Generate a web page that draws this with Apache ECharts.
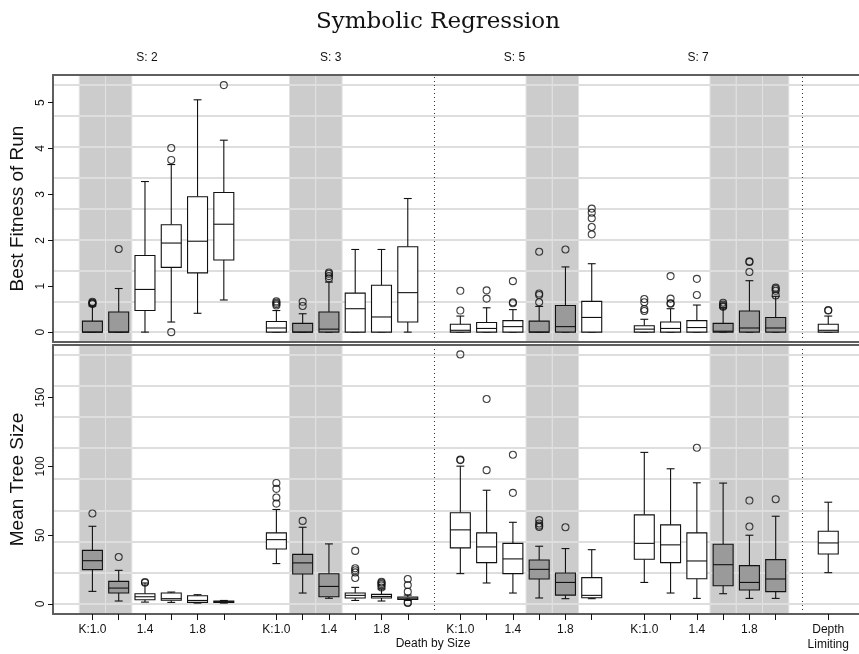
<!DOCTYPE html>
<html><head><meta charset="utf-8">
<script src="https://cdn.jsdelivr.net/npm/echarts@6/dist/echarts.min.js"></script>
<style>html,body{margin:0;padding:0;background:#fff}#chart{width:859px;height:654px}</style>
</head><body><div id="chart"></div>
<script>
// ---------------- data ----------------
const titleText = 'Symbolic Regression';
const groupLabels = ['S: 2', 'S: 3', 'S: 5', 'S: 7'];
const kLabels = ['K:1.0', '1.2', '1.4', '1.6', '1.8', '2.0'];
const labelledK = [0, 2, 4];               // K:1.0, 1.4, 1.8 get a label
const depthLabel = 'Depth\nLimiting';
const xAxisTitle = 'Death by Size';
const highlightedK = [[0, 1], [1, 2], [3, 4], [3, 4, 5]]; // shaded / filled boxes per group
const dividerAfterGroup = [1, 3];          // dotted separators
const fitnessTicks = [0, 1, 2, 3, 4, 5];
const sizeTicks = [0, 50, 100, 150];
const panelTitles = ['Best Fitness of Run', 'Mean Tree Size'];

// [lower whisker, Q1, median, Q3, upper whisker] — 4 groups x 6 K values, then depth limiting
const fitnessStats = [
  [0, 0, 0, 0.24, 0.57], [0, 0, 0, 0.44, 0.95], [0, 0.47, 0.93, 1.67, 3.28],
  [0.22, 1.41, 1.94, 2.34, 3.65], [0.41, 1.29, 1.98, 2.95, 5.06], [0.70, 1.57, 2.35, 3.04, 4.18],
  [0, 0, 0.09, 0.23, 0.47], [0, 0, 0, 0.19, 0.40], [0, 0, 0.065, 0.44, 1.09],
  [0, 0, 0.51, 0.85, 1.80], [0, 0, 0.33, 1.02, 1.80], [0, 0.22, 0.86, 1.86, 2.91],
  [0, 0, 0.04, 0.17, 0.35], [0, 0, 0.08, 0.21, 0.53], [0, 0, 0.12, 0.25, 0.49],
  [0, 0, 0, 0.24, 0.56], [0, 0, 0.12, 0.58, 1.42], [0, 0, 0.32, 0.67, 1.49],
  [0, 0, 0.065, 0.14, 0.28], [0, 0, 0.08, 0.22, 0.51], [0, 0, 0.10, 0.25, 0.59],
  [0, 0, 0.02, 0.19, 0.53], [0, 0, 0.09, 0.46, 1.12], [0, 0, 0.09, 0.32, 0.78],
  [0, 0, 0.04, 0.17, 0.35]
];
const fitnessOutliers = [
  [0.61, 0.63, 0.64, 0.66], [1.81], [], [0, 3.75, 4.01], [], [5.38],
  [0.58, 0.61, 0.64, 0.67], [0.57, 0.66], [1.17, 1.22, 1.27, 1.30], [], [], [],
  [0.47, 0.90], [0.73, 0.91], [0.63, 0.65, 1.11], [0.65, 0.81, 0.84, 1.75], [1.80], [2.13, 2.29, 2.48, 2.60, 2.69],
  [0.46, 0.50, 0.65, 0.72], [0.62, 0.63, 0.73, 1.22], [0.81, 1.16], [0.55, 0.57, 0.60, 0.64], [1.31, 1.53, 1.54], [0.80, 0.90, 0.94, 0.97],
  [0.47, 0.48]
];
const sizeStats = [
  [9.2, 25, 31.5, 39, 56.5], [2.2, 8, 11.6, 16.5, 24.5], [1.4, 3.1, 5.3, 7.5, 15.3],
  [1.2, 2.7, 3.9, 8, 8.7], [0.7, 1.2, 2.6, 6, 6.8], [0.7, 1.2, 1.7, 2.2, 2.6],
  [29.4, 40, 46.8, 51.7, 68.7], [8, 21.8, 29.9, 36.1, 55.8], [4.2, 5.3, 12.8, 22, 43.7],
  [2.6, 4.4, 6.3, 8, 12.1], [2.2, 4.4, 5.5, 7, 10.9], [2.6, 3.4, 4.3, 5.1, 6.5],
  [22.1, 40.8, 53.9, 66.3, 100.2], [15.3, 30.1, 41.5, 51.7, 82.7], [8, 22.1, 32.8, 44.1, 59.4],
  [4.4, 18.2, 25.2, 32, 42], [3.9, 6.5, 15.7, 22.6, 40.3], [3.9, 4.6, 6.3, 19.2, 39.5],
  [15.7, 32.5, 44.1, 64.8, 110.2], [8, 30.1, 43, 57.5, 98.3], [4.1, 18.4, 31.3, 51.7, 88.1],
  [7.5, 13.3, 28.6, 43.4, 87.9], [4.1, 10.2, 15.7, 27.9, 50], [4.1, 9, 18.2, 32.3, 63.8],
  [22.8, 36.4, 44.4, 52.9, 74]
];
const sizeOutliers = [
  [65.8], [34.2], [15.5, 16], [], [], [],
  [73, 77.4, 83.7, 88], [60.4], [], [18.9, 23, 24.5, 26, 38.6], [12, 13.5, 14.5, 15.5, 16.2], [0.8, 1.2, 9, 13.8, 18.2],
  [104.6, 105, 181.4], [97.3, 149], [80.8, 108.5], [56, 57, 58.5, 61], [55.8], [],
  [], [], [113.6], [], [56.3, 75.2], [76.2],
  []
];

// ---------------- layout helpers ----------------
const SLOTS_PER_GROUP = kLabels.length + 1;
const boxSlots = [];
const boxFilled = [];
groupLabels.forEach((g, gi) => kLabels.forEach((k, ki) => {
  boxSlots.push(gi * SLOTS_PER_GROUP + ki);
  boxFilled.push(highlightedK[gi].includes(ki) ? 1 : 0);
}));
const depthSlot = groupLabels.length * SLOTS_PER_GROUP;
boxSlots.push(depthSlot); boxFilled.push(0);

const shadedSlots = [];
highlightedK.forEach((ks, gi) => ks.forEach(k => shadedSlots.push(gi * SLOTS_PER_GROUP + k)));
const dividerSlots = dividerAfterGroup.map(g => g * SLOTS_PER_GROUP + kLabels.length);
const tickSlots = boxSlots.slice();
const labelSlots = [];
groupLabels.forEach((g, gi) => labelledK.forEach(k => labelSlots.push(gi * SLOTS_PER_GROUP + k)));
labelSlots.push(depthSlot);

const FONT = 'Liberation Sans, Arial, Helvetica, sans-serif';
const FRAME = '#5e5e5e';
const BOX_W = 0.76, CAP_W = 0.3;

function renderBox(params, api) {
  const x = api.value(0);
  const lo = api.coord([x, api.value(1)]);
  const q1 = api.coord([x, api.value(2)]);
  const md = api.coord([x, api.value(3)]);
  const q3 = api.coord([x, api.value(4)]);
  const hi = api.coord([x, api.value(5)]);
  const filled = api.value(6);
  const half = api.size([BOX_W, 0])[0] / 2;
  const cap = api.size([CAP_W, 0])[0] / 2;
  const cx = lo[0];
  const st = { stroke: '#111', lineWidth: 1.1 };
  return {
    type: 'group', children: [
      { type: 'line', shape: { x1: cx, y1: q3[1], x2: cx, y2: hi[1] }, style: st },
      { type: 'line', shape: { x1: cx, y1: q1[1], x2: cx, y2: lo[1] }, style: st },
      { type: 'line', shape: { x1: cx - cap, y1: hi[1], x2: cx + cap, y2: hi[1] }, style: st },
      { type: 'line', shape: { x1: cx - cap, y1: lo[1], x2: cx + cap, y2: lo[1] }, style: st },
      { type: 'rect', shape: { x: cx - half, y: q3[1], width: 2 * half, height: q1[1] - q3[1] },
        style: { fill: filled ? '#9a9a9a' : '#ffffff', stroke: '#111', lineWidth: 1.1 } },
      { type: 'line', shape: { x1: cx - half, y1: md[1], x2: cx + half, y2: md[1] }, style: st }
    ]
  };
}

function panelSeries(stats, outliers, gi, maxVal) {
  const boxData = stats.map((s, i) => [boxSlots[i], ...s, boxFilled[i]]);
  const outData = [];
  outliers.forEach((arr, i) => arr.forEach(v => outData.push([boxSlots[i], v])));
  const gridVals = [];
  for (let i = 0; i <= 8; i++) gridVals.push(maxVal * i / 8);
  return [
    {
      type: 'custom', xAxisIndex: gi * 2, yAxisIndex: gi, z: 3, silent: true,
      renderItem: renderBox, data: boxData,
      encode: { x: 0, y: [1, 2, 3, 4, 5] },
      markArea: {
        silent: true, z: 1,
        itemStyle: { color: '#cccccc', borderColor: '#e2e2e2', borderWidth: 1 },
        data: shadedSlots.map(s => [{ xAxis: s - 0.5 }, { xAxis: s + 0.5 }])
      },
      markLine: {
        silent: true, z: 2, symbol: ['none', 'none'], label: { show: false },
        data: gridVals.map(v => ({ yAxis: v, lineStyle: { color: '#dedede', width: 2, type: 'solid' } }))
          .concat(dividerSlots.map(s => ({ xAxis: s, lineStyle: { color: '#333', width: 1, type: [1, 3] } })))
      }
    },
    {
      type: 'scatter', xAxisIndex: gi * 2, yAxisIndex: gi, z: 4, silent: true,
      symbol: 'circle', symbolSize: 7,
      itemStyle: { color: 'rgba(0,0,0,0)', borderColor: '#111', borderWidth: 1.1 },
      data: outData
    }
  ];
}

const fitMax = Math.max(...fitnessOutliers.flat(), ...fitnessStats.flat());
const sizeMax = Math.max(...sizeOutliers.flat(), ...sizeStats.flat());

function xAxisPair(gi, withLabels) {
  const base = {
    type: 'value', gridIndex: gi, min: -1.5, max: 29.17, z: 10,
    splitLine: { show: false },
    axisLine: { show: true, onZero: false, lineStyle: { color: FRAME, width: 2 } }
  };
  return [
    Object.assign({}, base, {
      position: 'bottom',
      axisTick: withLabels ? { show: true, customValues: tickSlots, length: 6, lineStyle: { color: '#111', width: 1 } } : { show: false },
      axisLabel: withLabels ? {
        show: true, customValues: labelSlots, margin: 8, fontFamily: FONT, fontSize: 12, color: '#111', lineHeight: 15,
        formatter: v => (v === depthSlot ? depthLabel : kLabels[v % SLOTS_PER_GROUP])
      } : { show: false }
    }),
    Object.assign({}, base, { position: 'top', axisTick: { show: false }, axisLabel: { show: false } })
  ];
}

function yAxis(gi, min, max, ticks) {
  return {
    type: 'value', gridIndex: gi, min, max, position: 'left', z: 10,
    name: panelTitles[gi], nameLocation: 'middle', nameGap: 20,
    nameTextStyle: { fontFamily: FONT, fontSize: 19, color: '#111' },
    splitLine: { show: false },
    axisLine: { show: true, onZero: false, lineStyle: { color: FRAME, width: 2 } },
    axisTick: { show: true, customValues: ticks, length: 5, lineStyle: { color: '#111', width: 1 } },
    axisLabel: { show: true, customValues: ticks, rotate: 90, margin: 6, fontFamily: FONT, fontSize: 12, color: '#111' }
  };
}

const chart = echarts.init(document.getElementById('chart'), null, { renderer: 'canvas' });
const graphics = [
  { type: 'text', x: 438, y: 22, style: { text: titleText, font: '23px "DejaVu Serif", serif', fill: '#111', align: 'center', verticalAlign: 'middle' } },
  { type: 'text', x: 433, y: 644, style: { text: xAxisTitle, font: '12px ' + FONT, fill: '#111', align: 'center', verticalAlign: 'middle' } }
].concat(groupLabels.map((t, i) => ({
  type: 'text', x: 147 + i * 183.7, y: 58,
  style: { text: t, font: '12px ' + FONT, fill: '#111', align: 'center', verticalAlign: 'middle' }
})));

chart.setOption({
  animation: false,
  backgroundColor: '#ffffff',
  grid: [
    { left: 53, width: 808, top: 75, height: 267 },
    { left: 53, width: 808, top: 345, height: 269 }
  ],
  xAxis: [...xAxisPair(0, false), ...xAxisPair(1, true)],
  yAxis: [yAxis(0, -0.215, 5.6, fitnessTicks), yAxis(1, -7.24, 188.24, sizeTicks)],
  graphic: graphics,
  series: [...panelSeries(fitnessStats, fitnessOutliers, 0, fitMax), ...panelSeries(sizeStats, sizeOutliers, 1, sizeMax)]
});
</script></body></html>
